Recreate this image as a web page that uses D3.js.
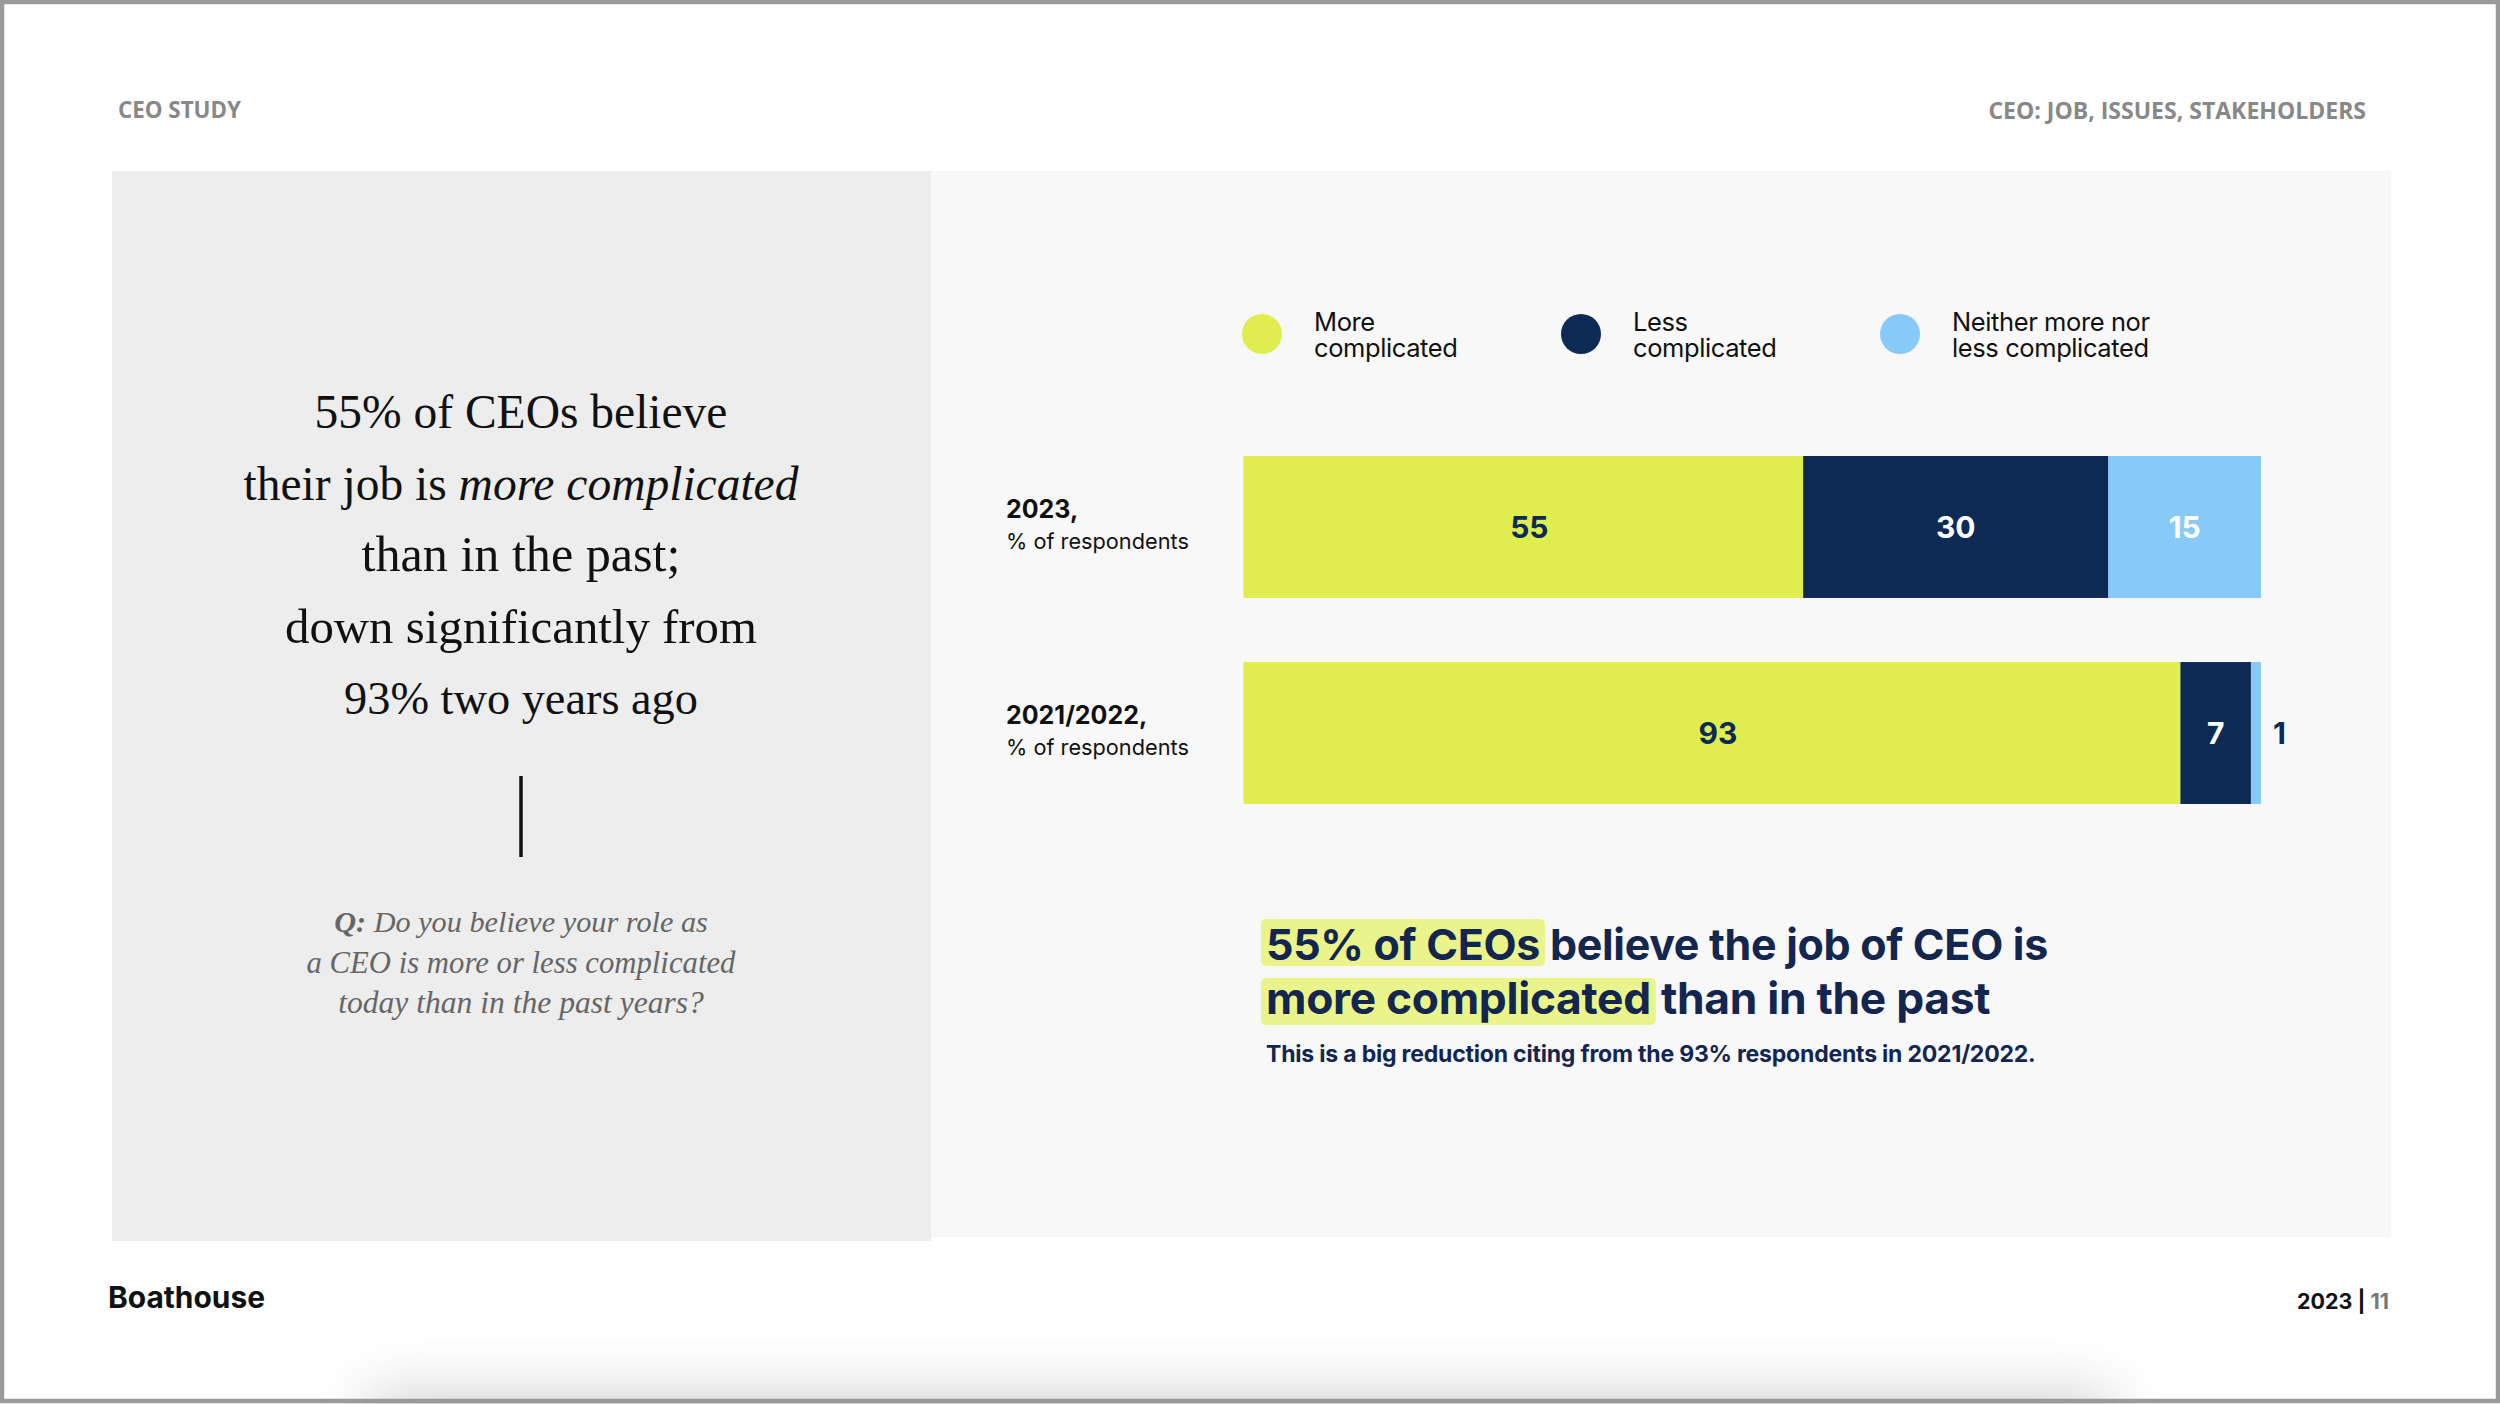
<!DOCTYPE html>
<html>
<head>
<meta charset="utf-8">
<script src="https://cdn.jsdelivr.net/npm/d3@7"></script>
<style>
  html, body { margin: 0; padding: 0; background: #ffffff; }
  svg { display: block; }
</style>
</head>
<body>
<svg id="chart" width="2500" height="1404"></svg>
<script>
// ---------- DATA ----------
const categories = ["2023,", "2021/2022,"];
const categorySubLabels = ["% of respondents", "% of respondents"];
const seriesKeys = ["more", "less", "neither"];
const seriesLabels = [["More", "complicated"], ["Less", "complicated"], ["Neither more nor", "less complicated"]];
const moreComplicated = [55, 93];
const lessComplicated = [30, 7];
const neitherComplicated = [15, 1];

const headerLeft = "CEO STUDY";
const headerRight = "CEO: JOB, ISSUES, STAKEHOLDERS";
const serifLines = ["55% of CEOs believe", ["their job is ", "more complicated"], "than in the past;", "down significantly from", "93% two years ago"];
const questionLines = [["Q:", " Do you believe your role as"], "a CEO is more or less complicated", "today than in the past years?"];
const headlineLine1 = ["55% of CEOs", " believe the job of CEO is"];
const headlineLine2 = ["more complicated", " than in the past"];
const subline = "This is a big reduction citing from the 93% respondents in 2021/2022.";
const brand = "Boathouse";
const pageYear = "2023 | ";
const pageNum = "11";

// ---------- STYLE ----------
const colors = { more: "#dfed4f", less: "#0d2a55", neither: "#87c9f7" };
const labelColors = { more: "#0d2a55", less: "#ffffff", neither: "#ffffff" };
const labelShift = { more: 6, less: 0, neither: 0 };
const navy = "#13264f";
const sans = "Inter, 'Noto Sans', sans-serif";
const serif = "'Liberation Serif', 'DejaVu Serif', serif";

const svg = d3.select("#chart");

// page background, shadow and frame
const defs = svg.append("defs");
defs.append("filter").attr("id", "blur").attr("x", "-20%").attr("y", "-200%").attr("width", "140%").attr("height", "500%")
  .append("feGaussianBlur").attr("stdDeviation", 30);
svg.append("rect").attr("x", 0).attr("y", 0).attr("width", 2500).attr("height", 1404).attr("fill", "#fff");
svg.append("rect").attr("x", 370).attr("y", 1395).attr("width", 1740).attr("height", 90)
  .attr("fill", "#cfcfcf").attr("filter", "url(#blur)");
svg.append("rect").attr("x", 2).attr("y", 2).attr("width", 2496).attr("height", 1399)
  .attr("fill", "none").attr("stroke", "#9a9a9a").attr("stroke-width", 4.5);

// panels
svg.append("rect").attr("x", 112).attr("y", 171).attr("width", 819).attr("height", 1070).attr("fill", "#ededed");
svg.append("rect").attr("x", 931).attr("y", 171).attr("width", 1460).attr("height", 1066).attr("fill", "#f8f8f8");

function fit(sel, target) {
  const w = sel.node().getComputedTextLength();
  const fs = parseFloat(sel.attr("font-size"));
  if (w > 0) sel.attr("font-size", fs * target / w);
  return sel;
}

// headers
fit(svg.append("text").attr("x", 118).attr("y", 118).attr("font-family", "'Open Sans', Lato, sans-serif")
  .attr("font-weight", 700).attr("font-size", 19).attr("fill", "#888").text(headerLeft), 123);
fit(svg.append("text").attr("x", 2366).attr("y", 119).attr("text-anchor", "end").attr("font-family", "'Open Sans', Lato, sans-serif")
  .attr("font-weight", 700).attr("font-size", 19).attr("fill", "#888").text(headerRight), 378);

// footer
fit(svg.append("text").attr("x", 108).attr("y", 1308).attr("font-family", sans).attr("font-weight", 700)
  .attr("font-size", 28).attr("fill", "#111").text(brand), 157);
const pg = svg.append("text").attr("x", 2389).attr("y", 1309).attr("text-anchor", "end").attr("font-family", sans)
  .attr("font-weight", 700).attr("font-size", 19).attr("fill", "#111");
pg.append("tspan").text(pageYear);
pg.append("tspan").attr("fill", "#777").text(pageNum);
fit(pg, 92);

// ---------- LEFT SERIF BLOCK ----------
const serifTargets = [413, 555, 319, 472, 354];
const serifBaselines = d3.range(serifLines.length).map(i => 428 + i * 71.5);
serifLines.forEach((ln, i) => {
  const t = svg.append("text").attr("x", 521).attr("y", serifBaselines[i]).attr("text-anchor", "middle")
    .attr("font-family", serif).attr("font-size", 48).attr("fill", "#111");
  if (Array.isArray(ln)) {
    t.append("tspan").text(ln[0]);
    t.append("tspan").attr("font-style", "italic").text(ln[1]);
  } else t.text(ln);
  fit(t, serifTargets[i]);
});
svg.append("line").attr("x1", 521).attr("x2", 521).attr("y1", 776).attr("y2", 857)
  .attr("stroke", "#111").attr("stroke-width", 3.5);

const qTargets = [374, 429, 366];
questionLines.forEach((ln, i) => {
  const t = svg.append("text").attr("x", 521).attr("y", 932 + i * 40.5).attr("text-anchor", "middle")
    .attr("font-family", serif).attr("font-style", "italic").attr("font-size", 30).attr("fill", "#666");
  if (Array.isArray(ln)) {
    t.append("tspan").attr("font-weight", 700).text(ln[0]);
    t.append("tspan").text(ln[1]);
  } else t.text(ln);
  fit(t, qTargets[i]);
});

// ---------- LEGEND ----------
const legendX = d3.scalePoint().domain(seriesKeys).range([1262, 1900]);
const lg = svg.append("g").selectAll("g").data(seriesKeys).join("g")
  .attr("transform", d => `translate(${legendX(d)},334)`);
lg.append("circle").attr("r", 20).attr("fill", d => colors[d]);
lg.each(function (d, i) {
  const g = d3.select(this);
  seriesLabels[i].forEach((s, j) => {
    g.append("text").attr("x", 52).attr("y", -3 + j * 26).attr("font-family", sans)
      .attr("font-size", 25.5).attr("fill", "#111").attr("letter-spacing", -0.4).text(s);
  });
});

// ---------- BARS ----------
const rows = categories.map((c, i) => ({ cat: c, sub: categorySubLabels[i], more: moreComplicated[i], less: lessComplicated[i], neither: neitherComplicated[i] }));
const y = d3.scaleBand().domain(categories).range([456, 804]).paddingInner(0.311).paddingOuter(0);
const stack = d3.stack().keys(seriesKeys);
const stacked = stack(rows);

rows.forEach((r, ri) => {
  const total = seriesKeys.reduce((a, k) => a + r[k], 0);
  const x = d3.scaleLinear().domain([0, total]).range([1243.5, 2261]);
  const g = svg.append("g");
  stacked.forEach(layer => {
    const d = layer[ri];
    const key = layer.key;
    const x0 = x(d[0]), x1 = x(d[1]);
    g.append("rect").attr("x", x0).attr("y", y(r.cat)).attr("width", x1 - x0).attr("height", y.bandwidth()).attr("fill", colors[key]);
    const small = (x1 - x0) < 40;
    g.append("text")
      .attr("x", small ? x1 + 12 : (x0 + x1) / 2 + labelShift[key])
      .attr("y", y(r.cat) + y.bandwidth() / 2 + 11)
      .attr("text-anchor", small ? "start" : "middle")
      .attr("font-family", sans).attr("font-weight", 700).attr("font-size", 30)
      .attr("fill", small ? colors.less : labelColors[key])
      .text(r[key]);
  });
  // category labels
  const cy = y(r.cat) + y.bandwidth() / 2;
  svg.append("text").attr("x", 1006).attr("y", cy - 9).attr("font-family", sans).attr("font-weight", 700)
    .attr("font-size", 25).attr("fill", "#111").text(r.cat);
  fit(svg.append("text").attr("x", 1006).attr("y", cy + 22).attr("font-family", sans)
    .attr("font-size", 21).attr("fill", "#111").text(r.sub), 183);
});

// ---------- HEADLINE ----------
function headline(parts, baseline, totalTarget, boxTop, boxBottom) {
  const g = svg.append("g");
  const box = g.append("rect").attr("fill", "#ebf48b").attr("rx", 5);
  const t = g.append("text").attr("x", 1266).attr("y", baseline).attr("font-family", sans)
    .attr("font-weight", 700).attr("font-size", 36).attr("fill", navy).attr("letter-spacing", -0.3);
  const a = t.append("tspan").text(parts[0]);
  t.append("tspan").text(parts[1]);
  fit(t, totalTarget);
  const wA = a.node().getComputedTextLength();
  box.attr("x", 1261).attr("y", boxTop).attr("width", wA + 10).attr("height", boxBottom - boxTop);
}
headline(headlineLine1, 960, 780, 919, 966);
headline(headlineLine2, 1014, 722, 978, 1025);
fit(svg.append("text").attr("x", 1266).attr("y", 1062).attr("font-family", sans).attr("font-weight", 700)
  .attr("font-size", 20).attr("fill", navy).attr("letter-spacing", -0.2).text(subline), 768);
</script>
</body>
</html>
